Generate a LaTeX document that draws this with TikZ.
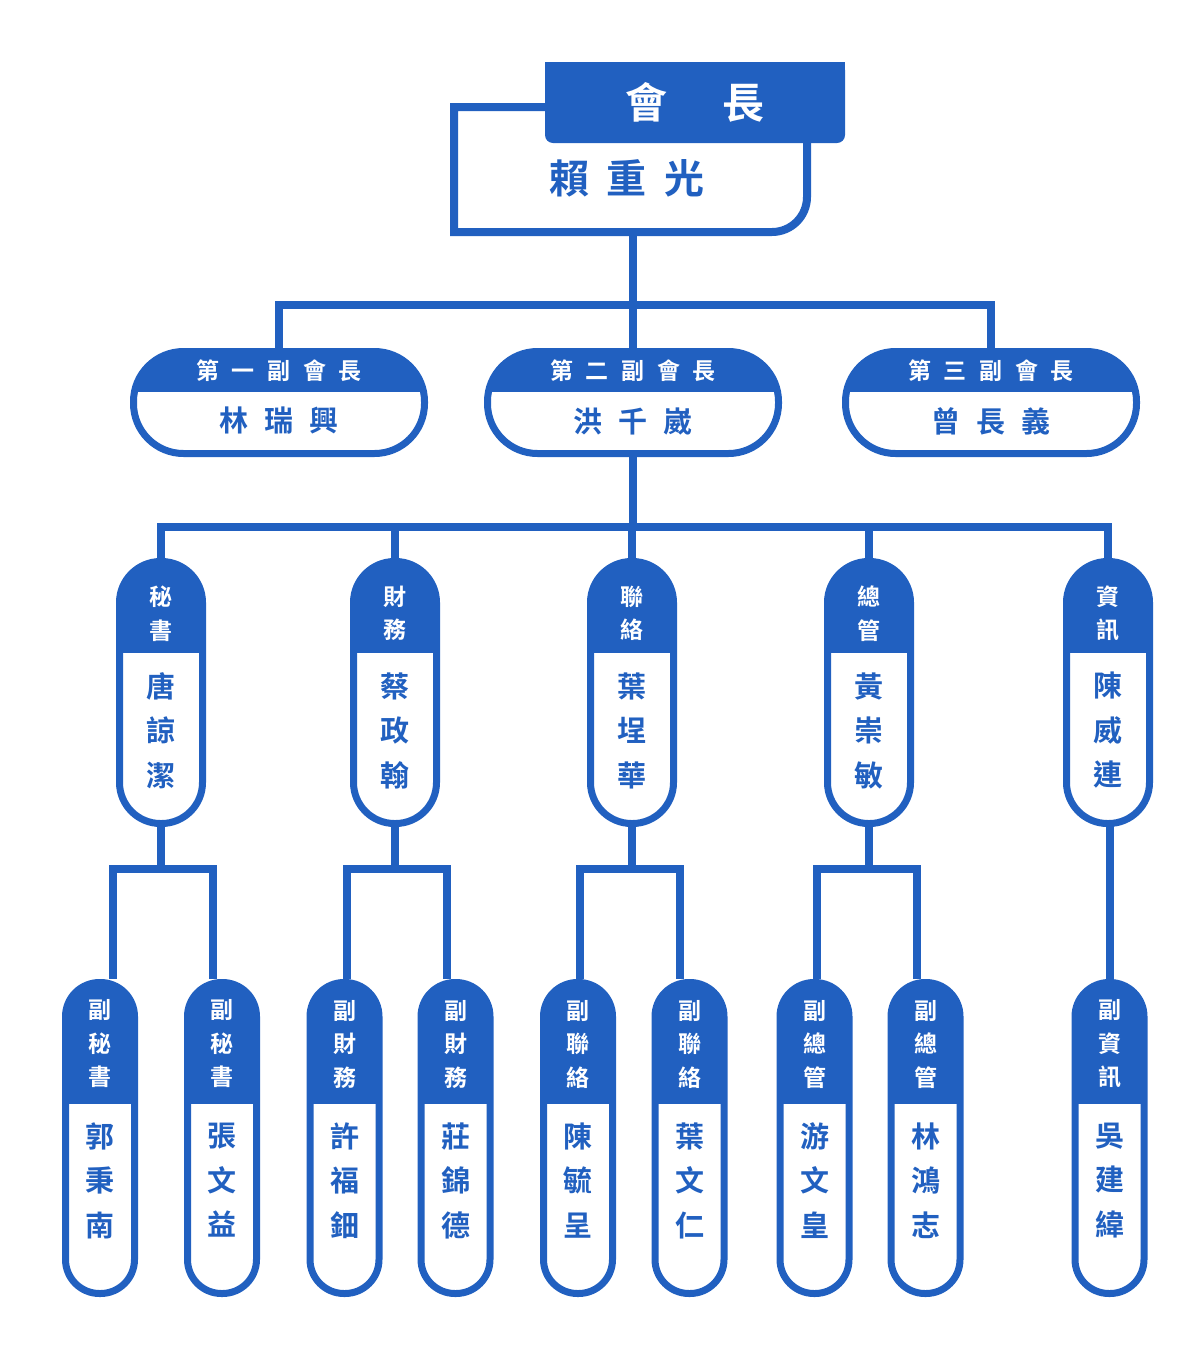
\documentclass[tikz,border=0pt]{standalone}
\usepackage{fontspec}
\setmainfont{Noto Sans CJK TC}[BoldFont={Noto Sans CJK TC Bold}]
\usepackage{tikz}
\usetikzlibrary{positioning,backgrounds}
\usepackage{xcolor}
\definecolor{hqblue}{RGB}{33,96,192}
\newcommand{\gp}{\hspace{0.55em}}
\tikzset{head/.style={path picture={\fill[hqblue, sharp corners] (path picture bounding box.north west) rectangle ([yshift=-#1]path picture bounding box.north east);}}}
\tikzstyle{link} = [line width=8pt, color=hqblue]
\tikzstyle{vicebox} = [rectangle, rounded corners=50pt, minimum width=291pt, minimum height=102pt, draw=hqblue, line width=7pt, fill=white, head=40.5pt]
\tikzstyle{chiefbox} = [rectangle, rounded corners=41pt, minimum width=83pt, minimum height=262pt, draw=hqblue, line width=7pt, fill=white, head=91.5pt]
\tikzstyle{deputybox} = [rectangle, rounded corners=34pt, minimum width=69pt, minimum height=311pt, draw=hqblue, line width=7pt, fill=white, head=121pt]
\tikzstyle{headtxt} = [text=white, inner sep=0pt, align=center, font=\bfseries\fontsize{23}{33.5}\selectfont]
\tikzstyle{nametxt} = [text=hqblue, inner sep=0pt, align=center, font=\bfseries\fontsize{29}{44.5}\selectfont]

\begin{document}
\begin{tikzpicture}[x=1pt,y=-1pt]
\useasboundingbox (0,0) rectangle (1200,1366);

% president
\fill[hqblue] (545,62) rectangle (845,100);
\node (pres) [fill=hqblue, rounded corners=8pt, minimum width=300pt, minimum height=81pt, text=white, font=\bfseries\fontsize{42}{42}\selectfont] at (695,102.5) {會\hspace{1.3em}長};
\node (presname) [nametxt, font=\bfseries\fontsize{40}{40}\selectfont] at (627,178) {賴\hspace{0.45em}重\hspace{0.45em}光};
\coordinate (presfoot) at (633,232);
\coordinate (bus1) at (633,305);

% vice presidents
\node (vp1) [vicebox] at (279,402.5) {};
\node (vp2) [vicebox] at (633,402.5) {};
\node (vp3) [vicebox] at (991,402.5) {};
\node (vp1h) [headtxt, above of=vp1, node distance=32pt] {第\gp{}一\gp{}副\gp{}會\gp{}長};
\node (vp2h) [headtxt, above of=vp2, node distance=32pt] {第\gp{}二\gp{}副\gp{}會\gp{}長};
\node (vp3h) [headtxt, above of=vp3, node distance=32pt] {第\gp{}三\gp{}副\gp{}會\gp{}長};
\node (vp1n) [nametxt, below of=vp1, node distance=18.5pt] {林\gp{}瑞\gp{}興};
\node (vp2n) [nametxt, below of=vp2, node distance=18.5pt] {洪\gp{}千\gp{}崴};
\node (vp3n) [nametxt, below of=vp3, node distance=18.5pt] {曾\gp{}長\gp{}義};
\coordinate (bus2) at (633,527);

% chiefs
\node (sec) [chiefbox] at (161,692.5) {};
\node (fin) [chiefbox] at (395,692.5) {};
\node (liai) [chiefbox] at (632,692.5) {};
\node (gen) [chiefbox] at (869,692.5) {};
\node (info) [chiefbox] at (1108,692.5) {};
\node (sech) [headtxt, above of=sec, node distance=79pt] {秘\\書};
\node (finh) [headtxt, above of=fin, node distance=79pt] {財\\務};
\node (liaih) [headtxt, above of=liai, node distance=79pt] {聯\\絡};
\node (genh) [headtxt, above of=gen, node distance=79pt] {總\\管};
\node (infoh) [headtxt, above of=info, node distance=79pt] {資\\訊};
\node (secn) [nametxt, below of=sec, node distance=38pt] {唐\\諒\\潔};
\node (finn) [nametxt, below of=fin, node distance=38pt] {蔡\\政\\翰};
\node (liain) [nametxt, below of=liai, node distance=38pt] {葉\\埕\\華};
\node (genn) [nametxt, below of=gen, node distance=38pt] {黃\\崇\\敏};
\node (infon) [nametxt, below of=info, node distance=38pt] {陳\\威\\連};

% deputies
\node (sec1) [deputybox] at (100,1138) {};
\node (sec2) [deputybox] at (222,1138) {};
\node (fin1) [deputybox] at (344.5,1138) {};
\node (fin2) [deputybox] at (455.5,1138) {};
\node (liai1) [deputybox] at (578,1138) {};
\node (liai2) [deputybox] at (689.5,1138) {};
\node (gen1) [deputybox] at (814.5,1138) {};
\node (gen2) [deputybox] at (925.5,1138) {};
\node (info1) [deputybox] at (1109.5,1138) {};
\node (sec1h) [headtxt, above of=sec1, node distance=94pt] {副\\秘\\書};
\node (sec2h) [headtxt, above of=sec2, node distance=94pt] {副\\秘\\書};
\node (fin1h) [headtxt, above of=fin1, node distance=94pt] {副\\財\\務};
\node (fin2h) [headtxt, above of=fin2, node distance=94pt] {副\\財\\務};
\node (liai1h) [headtxt, above of=liai1, node distance=94pt] {副\\聯\\絡};
\node (liai2h) [headtxt, above of=liai2, node distance=94pt] {副\\聯\\絡};
\node (gen1h) [headtxt, above of=gen1, node distance=94pt] {副\\總\\管};
\node (gen2h) [headtxt, above of=gen2, node distance=94pt] {副\\總\\管};
\node (info1h) [headtxt, above of=info1, node distance=94pt] {副\\資\\訊};
\node (sec1n) [nametxt, below of=sec1, node distance=42.5pt] {郭\\秉\\南};
\node (sec2n) [nametxt, below of=sec2, node distance=42.5pt] {張\\文\\益};
\node (fin1n) [nametxt, below of=fin1, node distance=42.5pt] {許\\福\\鈿};
\node (fin2n) [nametxt, below of=fin2, node distance=42.5pt] {莊\\錦\\德};
\node (liai1n) [nametxt, below of=liai1, node distance=42.5pt] {陳\\毓\\呈};
\node (liai2n) [nametxt, below of=liai2, node distance=42.5pt] {葉\\文\\仁};
\node (gen1n) [nametxt, below of=gen1, node distance=42.5pt] {游\\文\\皇};
\node (gen2n) [nametxt, below of=gen2, node distance=42.5pt] {林\\鴻\\志};
\node (info1n) [nametxt, below of=info1, node distance=42.5pt] {吳\\建\\緯};

\coordinate (secl) at (113,869);
\coordinate (secr) at (213,869);
\coordinate (finl) at (347,869);
\coordinate (finr) at (447,869);
\coordinate (liail) at (580,869);
\coordinate (liair) at (680,869);
\coordinate (genl) at (817,869);
\coordinate (genr) at (917,869);

\begin{pgfonlayer}{background}
\draw[link] (545,107) -| (454,232) -- (772,232) arc[start angle=90, end angle=0, radius=35] -- (807,143);
\draw[link] (presfoot) -- (bus1);
\draw[link] (vp1.north) |- (bus1) -| (vp3.north);
\draw[link] (bus1) -- (vp2.north);
\draw[link] (vp2.south) -- (bus2);
\draw[link] (sec.north) |- (bus2) -| (info.north);
\draw[link] (bus2 -| fin.north) -- (fin.north);
\draw[link] (bus2 -| liai.north) -- (liai.north);
\draw[link] (bus2 -| gen.north) -- (gen.north);
\draw[link] (sec.south) -- (sec.south |- secl);
\draw[link] (fin.south) -- (fin.south |- finl);
\draw[link] (liai.south) -- (liai.south |- liail);
\draw[link] (gen.south) -- (gen.south |- genl);
\draw[link] (info.south) -- (info.south -| info1.north) -- (info1.north);
\draw[link] (secl |- sec1.north) -- (secl) -- (secr) -- (secr |- sec2.north);
\draw[link] (finl |- fin1.north) -- (finl) -- (finr) -- (finr |- fin2.north);
\draw[link] (liail |- liai1.north) -- (liail) -- (liair) -- (liair |- liai2.north);
\draw[link] (genl |- gen1.north) -- (genl) -- (genr) -- (genr |- gen2.north);
\end{pgfonlayer}
\end{tikzpicture}
\end{document}
